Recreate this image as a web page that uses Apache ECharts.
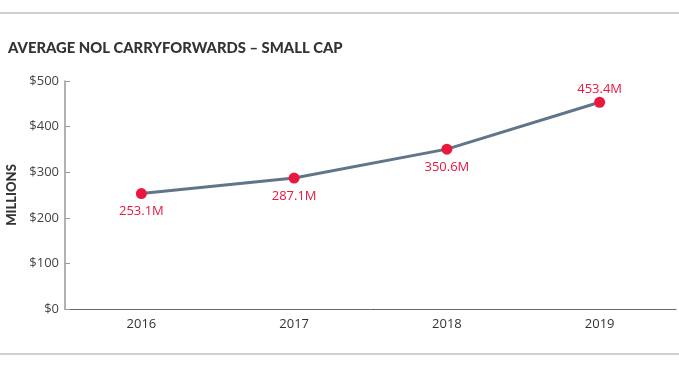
<!DOCTYPE html>
<html>
<head>
<meta charset="utf-8">
<script src="https://cdn.jsdelivr.net/npm/echarts@6/dist/echarts.min.js"></script>
<style>
html,body{margin:0;padding:0;background:#fff;}
#chart{width:679px;height:368px;}
</style>
</head>
<body>
<div id="chart"></div>
<script>
const categories = ['2016', '2017', '2018', '2019'];
const values = [253.1, 287.1, 350.6, 453.4];
const labelPositions = ['bottom', 'bottom', 'bottom', 'top'];
const yTicks = [0, 100, 200, 300, 400, 500];

const chart = echarts.init(document.getElementById('chart'));
chart.setOption({
  animation: false,
  backgroundColor: '#fff',
  title: {
    text: 'AVERAGE NOL CARRYFORWARDS – SMALL CAP',
    left: 3,
    top: 36,
    textStyle: { fontFamily: 'Lato', fontWeight: 900, fontSize: 14.8, color: '#333' }
  },
  graphic: [
    { type: 'rect', shape: { x: 0, y: 12, width: 679, height: 2 }, style: { fill: '#d0d0d0' } },
    { type: 'rect', shape: { x: 0, y: 353, width: 679, height: 2 }, style: { fill: '#d0d0d0' } }
  ],
  grid: { left: 65, right: 3, top: 81, bottom: 59, containLabel: false, outerBoundsMode: 'none' },
  xAxis: {
    type: 'category',
    data: categories,
    boundaryGap: true,
    axisLine: { lineStyle: { color: '#666', width: 1 } },
    axisTick: { show: false },
    axisLabel: { color: '#333', fontFamily: 'Open Sans', fontSize: 13, margin: 9 }
  },
  yAxis: {
    type: 'value',
    min: yTicks[0],
    max: yTicks[yTicks.length - 1],
    interval: 100,
    name: 'MILLIONS',
    nameLocation: 'middle',
    nameGap: 46,
    nameRotate: 90,
    nameTextStyle: { fontFamily: 'Lato', fontWeight: 900, fontSize: 13, color: '#333' },
    axisLine: { show: true, lineStyle: { color: '#999', width: 1.5 } },
    axisTick: { show: true, inside: true, length: 5, lineStyle: { color: '#999' } },
    splitLine: { show: false },
    axisLabel: {
      color: '#444', fontFamily: 'Open Sans', fontSize: 13, margin: 6,
      formatter: v => '$' + v
    }
  },
  series: [{
    type: 'line',
    data: values.map((v, i) => ({
      value: v,
      label: { position: labelPositions[i], distance: labelPositions[i] === 'top' ? 1 : 6 }
    })),
    lineStyle: { color: '#617589', width: 3 },
    symbol: 'circle',
    symbolSize: 11,
    itemStyle: { color: '#e8183e' },
    label: {
      show: true,
      color: '#e8183e',
      fontFamily: 'Open Sans',
      fontSize: 13,
      formatter: p => p.value.toFixed(1) + 'M'
    }
  }]
});
</script>
</body>
</html>
